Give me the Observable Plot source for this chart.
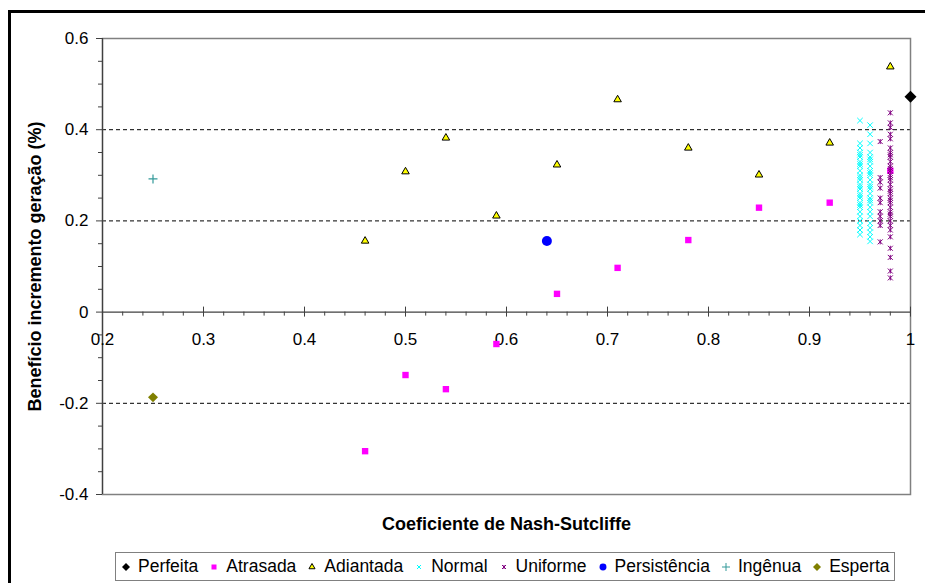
<!DOCTYPE html>
<html>
<head>
<meta charset="utf-8">
<script src="https://cdn.jsdelivr.net/npm/d3@7"></script>
<script src="https://cdn.jsdelivr.net/npm/@observablehq/plot@0.6"></script>
<style>
html, body { margin: 0; padding: 0; background: #fff; width: 925px; height: 583px; overflow: hidden; font-family: Arial, "Liberation Sans", sans-serif; }
#frame { position: absolute; left: 8px; top: 10px; width: 1000px; height: 700px; border-left: 3px solid #000; border-top: 3px solid #000; }
#chart { position: absolute; left: 0; top: 0; }
#legend { position: absolute; left: 115px; top: 552px; width: 780px; height: 29px; box-sizing: border-box; border: 1.5px solid #808080; background: #fff; display: flex; align-items: center; padding-left: 3px; font-size: 17.5px; color: #000; white-space: nowrap; }
#legend .item { display: flex; align-items: center; margin-right: 9px; }
#legend svg { width: 14px; height: 14px; margin-right: 5px; overflow: visible; }
</style>
</head>
<body>
<div id="frame"></div>
<div id="chart"></div>
<div id="legend"></div>
<script>
// ---------- data ----------
const seriesNames = ["Perfeita", "Atrasada", "Adiantada", "Normal", "Uniforme", "Persistência", "Ingênua", "Esperta"];

const perfeitaX = [1.0];
const perfeitaY = [0.472];

const atrasadaX = [0.46, 0.50, 0.54, 0.59, 0.65, 0.71, 0.78, 0.85, 0.92, 0.98];
const atrasadaY = [-0.305, -0.138, -0.169, -0.07, 0.04, 0.097, 0.158, 0.229, 0.24, 0.31];

const adiantadaX = [0.46, 0.50, 0.54, 0.59, 0.65, 0.71, 0.78, 0.85, 0.92, 0.98];
const adiantadaY = [0.156, 0.308, 0.382, 0.211, 0.323, 0.466, 0.36, 0.301, 0.371, 0.538];

const normalX = [0.95, 0.96];
const normalY095 = [0.42, 0.37, 0.36, 0.35, 0.345, 0.34, 0.33, 0.325, 0.32, 0.31, 0.30, 0.295, 0.29, 0.28, 0.275, 0.27, 0.26, 0.255, 0.25, 0.24, 0.235, 0.23, 0.22, 0.21, 0.20, 0.19, 0.18, 0.17];
const normalY096 = [0.41, 0.39, 0.37, 0.35, 0.34, 0.335, 0.33, 0.32, 0.31, 0.305, 0.30, 0.29, 0.28, 0.275, 0.27, 0.26, 0.25, 0.245, 0.24, 0.23, 0.22, 0.21, 0.195, 0.185, 0.175, 0.165, 0.155];

const uniformeX = [0.97, 0.98];
const uniformeY097 = [0.374, 0.295, 0.285, 0.272, 0.25, 0.24, 0.22, 0.21, 0.20, 0.19, 0.154];
const uniformeY098 = [0.437, 0.415, 0.405, 0.39, 0.38, 0.36, 0.35, 0.345, 0.34, 0.33, 0.32, 0.315, 0.31, 0.30, 0.295, 0.29, 0.28, 0.27, 0.265, 0.26, 0.25, 0.245, 0.24, 0.23, 0.22, 0.215, 0.21, 0.20, 0.19, 0.18, 0.165, 0.14, 0.12, 0.09, 0.075];

const persistenciaX = [0.64];
const persistenciaY = [0.156];

const ingenuaX = [0.25];
const ingenuaY = [0.292];

const espertaX = [0.25];
const espertaY = [-0.187];

const xTickValues = [0.2, 0.3, 0.4, 0.5, 0.6, 0.7, 0.8, 0.9, 1.0];
const xTickLabels = ["0.2", "0.3", "0.4", "0.5", "0.6", "0.7", "0.8", "0.9", "1"];
const xMinorTicks = [0.22, 0.24, 0.26, 0.28, 0.32, 0.34, 0.36, 0.38, 0.42, 0.44, 0.46, 0.48, 0.52, 0.54, 0.56, 0.58, 0.62, 0.64, 0.66, 0.68, 0.72, 0.74, 0.76, 0.78, 0.82, 0.84, 0.86, 0.88, 0.92, 0.94, 0.96, 0.98];
const yTickValues = [0.6, 0.4, 0.2, 0, -0.2, -0.4];
const yTickLabels = ["0.6", "0.4", "0.2", "0", "-0.2", "-0.4"];
const yMinorTicks = [0.55, 0.5, 0.45, 0.35, 0.3, 0.25, 0.15, 0.1, 0.05, -0.05, -0.1, -0.15, -0.25, -0.3, -0.35];
const yGridValues = [0.4, 0.2, -0.2];

const xTitle = "Coeficiente de Nash-Sutcliffe";
const yTitle = "Benefício incremento geração (%)";

// ---------- build tables ----------
function pts(xs, ys) { return xs.map((x, i) => ({x, y: ys[i]})); }
function col(x, ys) { return ys.map(y => ({x, y})); }
const perfeita = pts(perfeitaX, perfeitaY);
const atrasada = pts(atrasadaX, atrasadaY);
const adiantada = pts(adiantadaX, adiantadaY);
const normal = [...col(normalX[0], normalY095), ...col(normalX[1], normalY096)];
const uniforme = [...col(uniformeX[0], uniformeY097), ...col(uniformeX[1], uniformeY098)];
const persistencia = pts(persistenciaX, persistenciaY);
const ingenua = pts(ingenuaX, ingenuaY);
const esperta = pts(espertaX, espertaY);

const xTicks = xTickValues.map((v, i) => ({v, label: xTickLabels[i]}));
const yLabelOf = new Map(yTickValues.map((v, i) => [v, yTickLabels[i]]));

// asterisk marker (X + vertical bar)
const starSymbol = {
  draw(ctx, size) {
    const r = Math.sqrt(size / Math.PI);
    ctx.moveTo(-r, -r); ctx.lineTo(r, r);
    ctx.moveTo(-r, r); ctx.lineTo(r, -r);
    ctx.moveTo(0, -r); ctx.lineTo(0, r);
  }
};

const axisColor = "#404040";

const chart = Plot.plot({
  width: 925,
  height: 545,
  marginLeft: 102,
  marginRight: 15,
  marginTop: 38,
  marginBottom: 51,
  x: {domain: [0.2, 1], axis: null},
  y: {domain: [-0.4, 0.6]},
  style: {fontFamily: "Arial, 'Liberation Sans', sans-serif", fontSize: "17px", background: "transparent", color: "#000"},
  marks: [
    Plot.ruleY(yGridValues, {stroke: "#000", strokeDasharray: "4,3", strokeWidth: 1}),
    Plot.frame({stroke: "#808080", strokeWidth: 1.5}),
    Plot.ruleX([0.2], {stroke: axisColor, strokeWidth: 1.2}),
    Plot.ruleY([0], {stroke: axisColor, strokeWidth: 1.2}),
    Plot.axisY(yTickValues, {tickSize: 6, tickPadding: 8, stroke: axisColor, tickFormat: d => yLabelOf.get(d), label: null}),
    Plot.axisY(yMinorTicks, {tickSize: 4, stroke: axisColor, tickFormat: () => "", label: null}),
    Plot.ruleX(xTicks, {x: "v", y1: () => 0, y2: () => 0, insetTop: -5, insetBottom: -5, stroke: axisColor}),
    Plot.ruleX(xMinorTicks, {x: d => d, y1: () => 0, y2: () => 0, insetTop: 0, insetBottom: -4, stroke: axisColor}),
    Plot.text(xTicks, {x: "v", y: () => 0, text: "label", dy: 27, fill: "#000"}),
    Plot.text([yTitle], {frameAnchor: "left", dx: -67, rotate: -90, textAnchor: "middle", lineAnchor: "middle", fontWeight: "bold", fontSize: 18, fill: "#000"}),
    Plot.text([xTitle], {frameAnchor: "bottom", dy: 30, textAnchor: "middle", lineAnchor: "middle", fontWeight: "bold", fontSize: 18, fill: "#000"}),
    // series
    Plot.dot(perfeita, {x: "x", y: "y", symbol: "diamond2", r: 5.4, fill: "#000", stroke: "none"}),
    Plot.dot(atrasada, {x: "x", y: "y", symbol: "square", r: 3.6, fill: "#FF00FF", stroke: "none"}),
    Plot.dot(adiantada, {x: "x", y: "y", symbol: "triangle", r: 2.8, fill: "#FFFF00", stroke: "#000", strokeWidth: 1}),
    Plot.dot(normal, {x: "x", y: "y", symbol: "times", r: 2.6, fill: "none", stroke: "#00FFFF", strokeWidth: 1}),
    Plot.dot(uniforme, {x: "x", y: "y", symbol: starSymbol, r: 2.5, fill: "none", stroke: "#800080", strokeWidth: 1}),
    Plot.dot(persistencia, {x: "x", y: "y", symbol: "circle", r: 5, fill: "#0000FF", stroke: "none"}),
    Plot.dot(ingenua, {x: "x", y: "y", symbol: "plus", r: 3.0, fill: "none", stroke: "#339999", strokeWidth: 1.2}),
    Plot.dot(esperta, {x: "x", y: "y", symbol: "diamond2", r: 4.5, fill: "#808000", stroke: "none"})
  ]
});
document.getElementById("chart").appendChild(chart);

// ---------- legend ----------
const legendStyles = [
  {type: d3.symbolDiamond2, size: 41, fill: "#000", stroke: "none"},
  {type: d3.symbolSquare, size: 25, fill: "#FF00FF", stroke: "none"},
  {type: d3.symbolTriangle, size: 16, fill: "#FFFF00", stroke: "#000"},
  {type: d3.symbolTimes, size: 12, fill: "none", stroke: "#00FFFF"},
  {type: starSymbol, size: Math.PI * 4, fill: "none", stroke: "#800080"},
  {type: d3.symbolCircle, size: 38, fill: "#0000FF", stroke: "none"},
  {type: d3.symbolPlus, size: 23, fill: "none", stroke: "#339999"},
  {type: d3.symbolDiamond2, size: 41, fill: "#808000", stroke: "none"}
];
const legend = document.getElementById("legend");
seriesNames.forEach((name, i) => {
  const s = legendStyles[i];
  const item = document.createElement("span");
  item.className = "item";
  const path = d3.symbol(s.type, s.size)();
  item.innerHTML = `<svg viewBox="-7 -7 14 14"><path d="${path}" fill="${s.fill}" stroke="${s.stroke}" stroke-width="1"></path></svg>`;
  const t = document.createElement("span");
  t.textContent = name;
  item.appendChild(t);
  legend.appendChild(item);
});
</script>
</body>
</html>
